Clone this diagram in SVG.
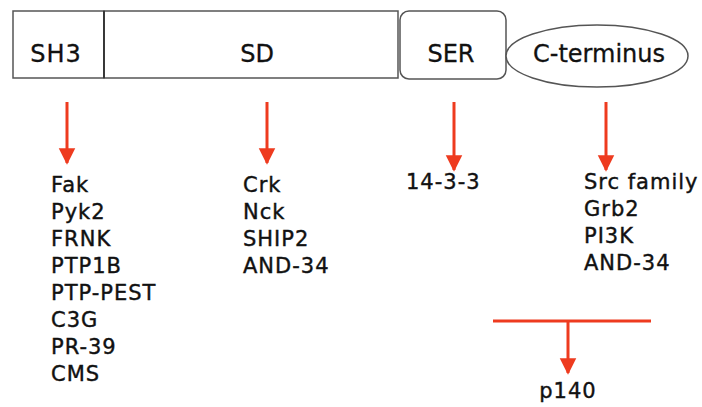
<svg xmlns="http://www.w3.org/2000/svg" width="702" height="407" viewBox="0 0 702 407">
  <style>
    .dom { fill: #ffffff; stroke: #555555; stroke-width: 1.5; }
    .lbl { font-family: "DejaVu Sans", "Liberation Sans", sans-serif; font-size: 24px; fill: #111111; stroke: #111111; stroke-width: 0.3; }
    .mid { text-anchor: middle; }
    .lst { font-family: "DejaVu Sans", "Liberation Sans", sans-serif; font-size: 21px; letter-spacing: 1px; fill: #111111; stroke: #111111; stroke-width: 0.4; }
    .wire { stroke: #ee3b1f; stroke-width: 3; fill: none; }
  </style>
  <defs>
    <marker id="head" viewBox="0 0 10 10" refX="9" refY="5" markerWidth="5.5" markerHeight="6" markerUnits="strokeWidth" orient="auto">
      <path d="M0,0 L10,5 L0,10 Z" fill="#ee3b1f"/>
    </marker>
  </defs>
  <rect width="702" height="407" fill="#ffffff"/>

  <g id="sh3">
    <rect class="dom" x="13" y="11" width="91" height="67"/>
    <text class="lbl mid" x="56" y="62" style="letter-spacing:1px">SH3</text>
  </g>
  <g id="sd">
    <rect class="dom" x="104" y="11" width="294" height="67"/>
    <line x1="104" y1="11" x2="104" y2="78" stroke="#333333" stroke-width="1.8"/>
    <text class="lbl mid" x="257" y="62">SD</text>
  </g>
  <g id="ser">
    <rect class="dom" x="400" y="11" width="106" height="68" rx="9"/>
    <text class="lbl mid" x="451" y="62">SER</text>
  </g>
  <g id="cterm">
    <ellipse class="dom" cx="597" cy="56" rx="91" ry="31"/>
    <text class="lbl mid" x="599" y="62">C-terminus</text>
  </g>

  <g id="connectors">
    <line class="wire" x1="67" y1="102" x2="67" y2="163" marker-end="url(#head)"/>
    <line class="wire" x1="267" y1="102" x2="267" y2="163" marker-end="url(#head)"/>
    <line class="wire" x1="454" y1="102" x2="454" y2="170" marker-end="url(#head)"/>
    <line class="wire" x1="606" y1="102" x2="606" y2="170" marker-end="url(#head)"/>
    <line class="wire" x1="493" y1="321" x2="651" y2="321"/>
    <line class="wire" x1="568" y1="321" x2="568" y2="373" marker-end="url(#head)"/>
  </g>

  <g id="sh3-partners">
    <text class="lst" x="51" y="192">Fak</text>
    <text class="lst" x="51" y="219">Pyk2</text>
    <text class="lst" x="51" y="246">FRNK</text>
    <text class="lst" x="51" y="273">PTP1B</text>
    <text class="lst" x="51" y="300">PTP-PEST</text>
    <text class="lst" x="51" y="327">C3G</text>
    <text class="lst" x="51" y="354">PR-39</text>
    <text class="lst" x="51" y="381">CMS</text>
  </g>
  <g id="sd-partners">
    <text class="lst" x="243" y="192">Crk</text>
    <text class="lst" x="243" y="219">Nck</text>
    <text class="lst" x="243" y="246">SHIP2</text>
    <text class="lst" x="243" y="273">AND-34</text>
  </g>
  <g id="ser-partners">
    <text class="lst" x="406" y="189">14-3-3</text>
  </g>
  <g id="cterm-partners">
    <text class="lst" x="584" y="189">Src family</text>
    <text class="lst" x="584" y="216">Grb2</text>
    <text class="lst" x="584" y="243">PI3K</text>
    <text class="lst" x="584" y="270">AND-34</text>
  </g>
  <g id="p140">
    <text class="lst mid" x="568" y="398">p140</text>
  </g>
</svg>
